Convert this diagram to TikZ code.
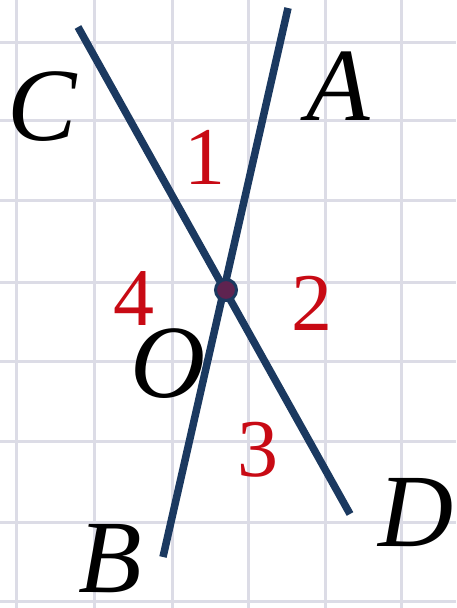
\documentclass[tikz,border=0pt]{standalone}
\usepackage{fontspec}
\setmainfont{Liberation Serif}
\usepackage{tikz}
\definecolor{navy}{RGB}{27,57,96}
\definecolor{gridc}{RGB}{220,220,230}
\definecolor{angred}{RGB}{200,10,20}
\definecolor{dotc}{RGB}{95,35,80}
\tikzset{
  ptlabel/.style={inner sep=0pt,font=\fontsize{104}{104}\selectfont\itshape},
  anglabel/.style={inner sep=0pt,text=angred,font=\fontsize{82}{82}\selectfont},
  ray/.style={line width=7.5pt,color=navy}
}

\begin{document}
\begin{tikzpicture}[x=1pt,y=-1pt]
	\useasboundingbox (0,0) rectangle (456,608);
	\fill[white] (0,0) rectangle (456,608);
	% grid
	\foreach \gx in {16,94,172,248,325,401,478}
		\draw[gridc,line width=3pt] (\gx,0) -- (\gx,608);
	\foreach \gy in {42,120,200,282,361,441,522,601}
		\draw[gridc,line width=3pt] (0,\gy) -- (456,\gy);
	% lines
	\coordinate (C) at (78,27);
	\coordinate (D) at (350,514);
	\coordinate (A) at (288,8);
	\coordinate (B) at (163,557);
	\coordinate (O) at (226,290);
	\draw[ray] (C) -- (D);
	\draw[ray] (A) -- (B);
	\draw[fill=dotc,draw=navy,line width=3pt] (O) circle(10.5pt);
	% letters
	\node[ptlabel] (lC) at (42,107) {C};
	\node[ptlabel] (lA) at (338,86) {A};
	\node[ptlabel] (lO) at (168,364) {O};
	\node[ptlabel] (lB) at (110,559) {B};
	\node[ptlabel] (lD) at (416,513) {D};
	% angles
	\node[anglabel] (n1) at (205,157) {1};
	\node[anglabel] (n2) at (312,303) {2};
	\node[anglabel] (n3) at (258,450) {3};
	\node[anglabel] (n4) at (134,299) {4};
\end{tikzpicture}
\end{document}
